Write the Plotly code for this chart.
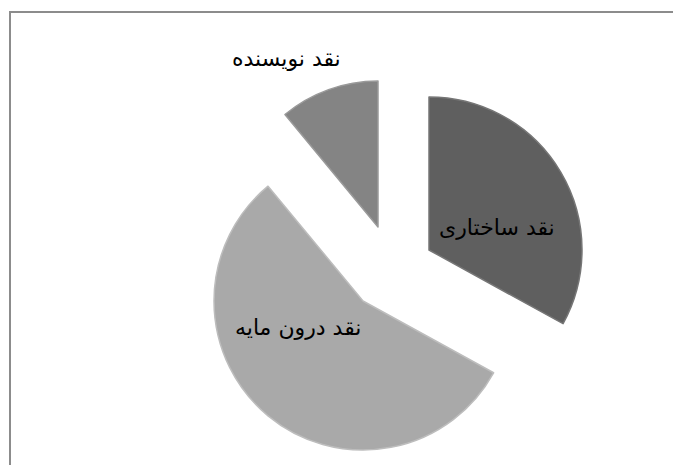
import plotly.graph_objects as go

labels = ["نقد ساختاری", "نقد درون مایه", "نقد نویسنده"]
values = [33, 56, 11]
colors = ["#5f5f5f", "#a9a9a9", "#848484"]
edge_colors = ["#767676", "#bdbdbd", "#9a9a9a"]

W, H = 681, 465
OFF = 8  # page body margin

# exploded slice placement (screen px): vertex of each slice and its radius
slice_centres = [(429, 250), (363, 301), (378, 227)]
slice_radii = [153, 149, 146]

fig = go.Figure()
for i, ((vx, vy), r) in enumerate(zip(slice_centres, slice_radii)):
    fx, fy = vx - OFF, vy - OFF
    cols = [colors[j] if j == i else "rgba(0,0,0,0)" for j in range(len(values))]
    lcols = [edge_colors[j] if j == i else "rgba(0,0,0,0)" for j in range(len(values))]
    lw = [1.5 if j == i else 0 for j in range(len(values))]
    fig.add_trace(go.Pie(
        labels=labels,
        values=values,
        sort=False,
        direction="clockwise",
        rotation=0,
        marker=dict(colors=cols, line=dict(color=lcols, width=lw)),
        textinfo="none",
        hoverinfo="label+percent",
        showlegend=False,
        domain=dict(x=[(fx - r) / W, (fx + r) / W],
                    y=[1 - (fy + r) / H, 1 - (fy - r) / H]),
    ))

label_pos = [(497, 227), (298, 327), (286, 59)]
for lab, (px, py) in zip(labels, label_pos):
    fig.add_annotation(x=(px - OFF) / W, y=1 - (py - OFF) / H, xref="paper", yref="paper",
                       text=lab, showarrow=False,
                       font=dict(family="DejaVu Sans", size=22, color="#000000"),
                       xanchor="center", yanchor="middle")

fig.add_shape(type="rect", xref="paper", yref="paper",
              x0=(10 - OFF) / W, x1=1.05, y0=-0.05, y1=1 - (12 - OFF) / H,
              line=dict(color="#8c8c8c", width=2), fillcolor="rgba(0,0,0,0)")

fig.update_layout(width=W, height=H, margin=dict(l=0, r=0, t=0, b=0),
                  paper_bgcolor="white", plot_bgcolor="white")

fig.write_html("out.html")
